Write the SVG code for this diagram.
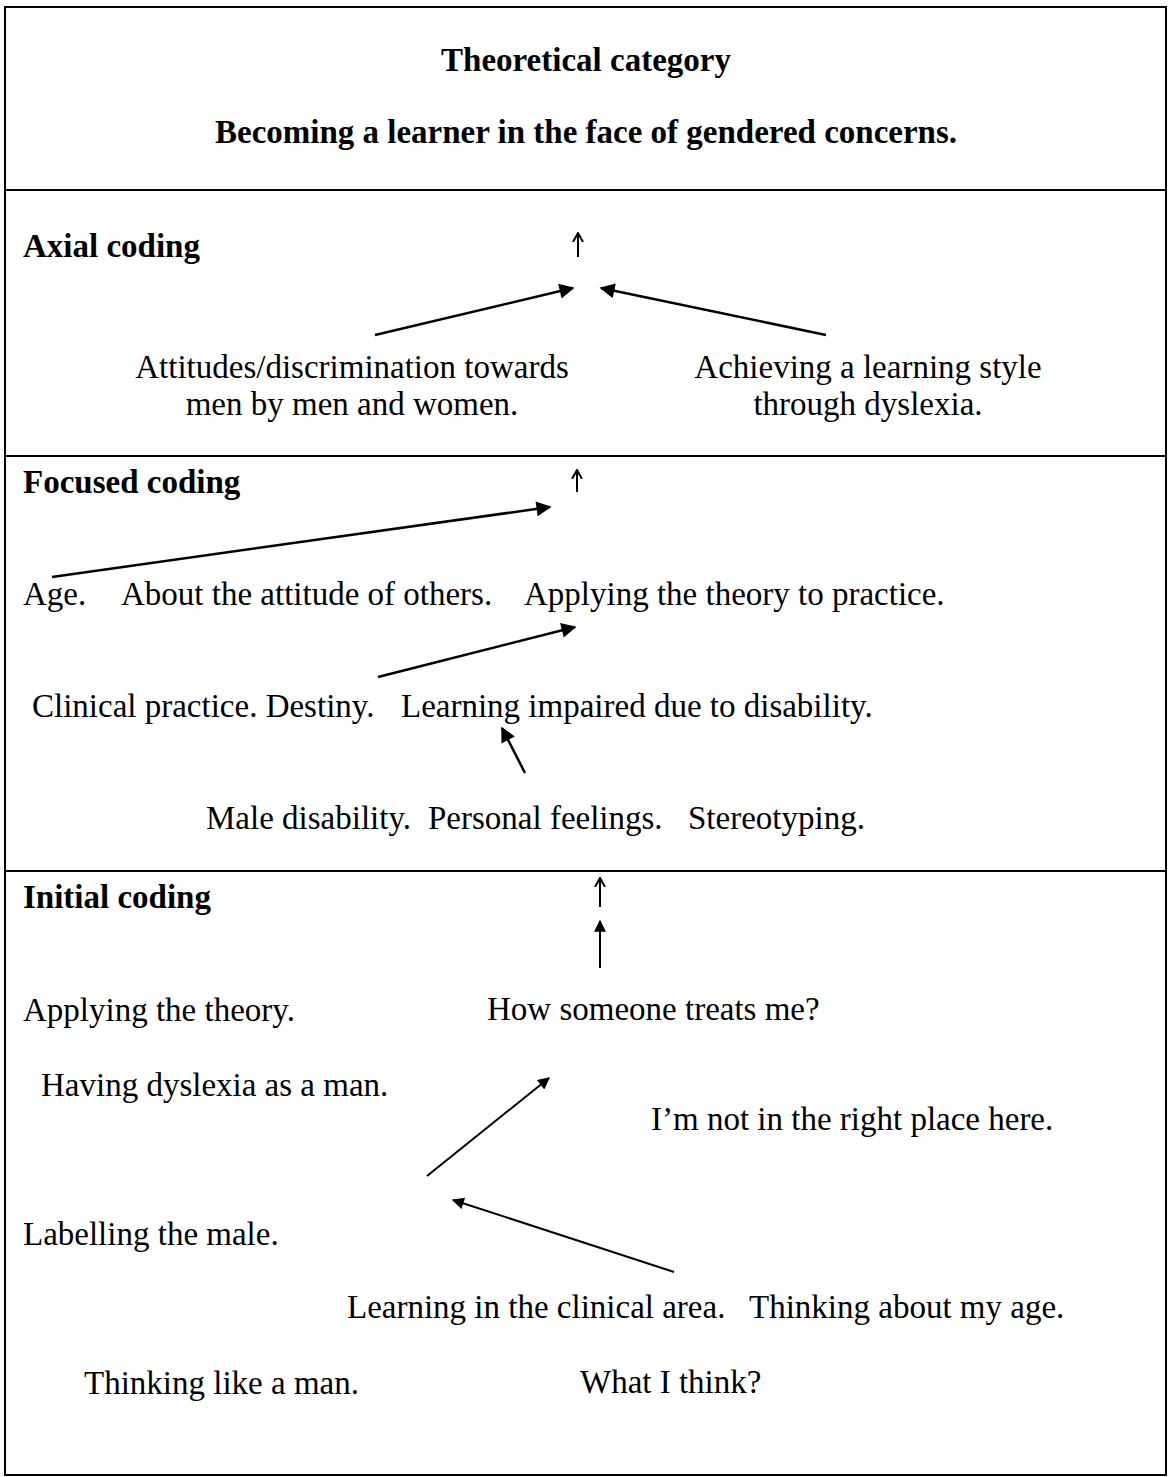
<svg xmlns="http://www.w3.org/2000/svg" width="1169" height="1477" viewBox="0 0 1169 1477">
<style>
text{font-family:"Liberation Serif","Times New Roman",serif;font-size:33px;fill:#000}
.b{font-weight:bold}
.frame{fill:none;stroke:#000;stroke-width:2}
.c{stroke:#000;stroke-width:2.5;fill:none}
.u{stroke:#000;stroke-width:2;fill:none}
</style>
<defs>
<marker id="ah" viewBox="0 0 10 10" refX="9" refY="5" markerWidth="7" markerHeight="6" markerUnits="strokeWidth" orient="auto"><path d="M0,0 L10,5 L0,10 z" fill="#000"/></marker>
<marker id="oh" viewBox="0 0 10 10" refX="9" refY="5" markerWidth="5" markerHeight="8" markerUnits="strokeWidth" orient="auto"><path d="M0,0 L9,5 L0,10" fill="none" stroke="#000" stroke-width="2"/></marker>
</defs>
<g id="frame">
<rect class="frame" x="5" y="7" width="1161" height="1468"/>
<line class="frame" x1="5" y1="190" x2="1166" y2="190"/>
<line class="frame" x1="5" y1="456" x2="1166" y2="456"/>
<line class="frame" x1="5" y1="871" x2="1166" y2="871"/>
</g>
<g id="theoretical">
<text class="b" x="586" y="71" text-anchor="middle">Theoretical category</text>
<text class="b" x="586" y="143" text-anchor="middle">Becoming a learner in the face of gendered concerns.</text>
</g>
<g id="axial">
<text class="b" x="23" y="257">Axial coding</text>
<text x="352" y="378" text-anchor="middle">Attitudes/discrimination towards</text>
<text x="352" y="415" text-anchor="middle">men by men and women.</text>
<text x="868" y="378" text-anchor="middle">Achieving a learning style</text>
<text x="868" y="415" text-anchor="middle">through dyslexia.</text>
</g>
<g id="focused">
<text class="b" x="23" y="493">Focused coding</text>
<text x="23" y="605">Age.</text>
<text x="121" y="605">About the attitude of others.</text>
<text x="524" y="605">Applying the theory to practice.</text>
<text x="32" y="717">Clinical practice. Destiny.</text>
<text x="401" y="717">Learning impaired due to disability.</text>
<text x="206" y="829">Male disability.</text>
<text x="428" y="829">Personal feelings.</text>
<text x="688" y="829">Stereotyping.</text>
</g>
<g id="initial">
<text class="b" x="23" y="908">Initial coding</text>
<text x="23" y="1021">Applying the theory.</text>
<text x="487" y="1020">How someone treats me?</text>
<text x="41" y="1096">Having dyslexia as a man.</text>
<text x="651" y="1130">I’m not in the right place here.</text>
<text x="23" y="1245">Labelling the male.</text>
<text x="347" y="1318">Learning in the clinical area.</text>
<text x="749" y="1318">Thinking about my age.</text>
<text x="84" y="1394">Thinking like a man.</text>
<text x="580" y="1393">What I think?</text>
</g>
<g id="connectors">
<line class="u" x1="578" y1="257" x2="578" y2="233" marker-end="url(#oh)"/>
<line class="c" x1="375" y1="335" x2="573" y2="288" marker-end="url(#ah)"/>
<line class="c" x1="826" y1="335" x2="601" y2="288" marker-end="url(#ah)"/>
<line class="u" x1="577" y1="492" x2="577" y2="470" marker-end="url(#oh)"/>
<line class="c" x1="52" y1="577" x2="550" y2="507" marker-end="url(#ah)"/>
<line class="c" x1="378" y1="677" x2="575" y2="627" marker-end="url(#ah)"/>
<line class="c" x1="525" y1="773" x2="502" y2="728" marker-end="url(#ah)"/>
<line class="u" x1="600" y1="907" x2="600" y2="878" marker-end="url(#oh)"/>
<line class="u" x1="600" y1="968" x2="600" y2="921" marker-end="url(#ah)"/>
<line class="u" x1="427" y1="1176" x2="549" y2="1078" marker-end="url(#ah)"/>
<line class="u" x1="674" y1="1272" x2="453" y2="1200" marker-end="url(#ah)"/>
</g>
</svg>
